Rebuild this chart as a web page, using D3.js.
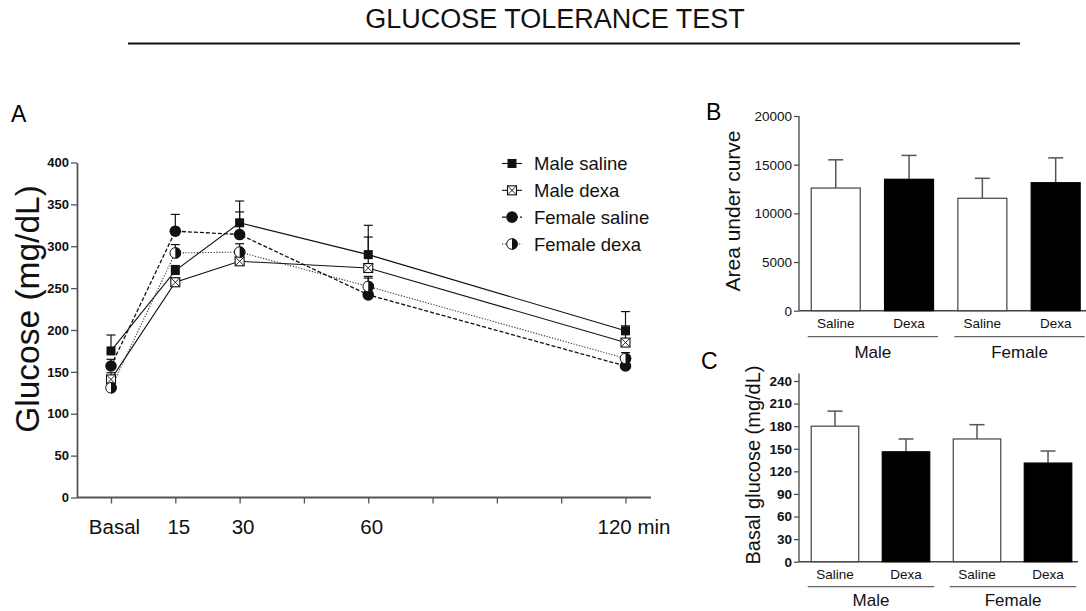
<!DOCTYPE html>
<html>
<head>
<meta charset="utf-8">
<script src="https://cdn.jsdelivr.net/npm/d3@7"></script>
<style>
  body { margin: 0; background: #fff; }
  svg { display: block; font-family: "Liberation Sans", Arial, sans-serif; }
</style>
</head>
<body>
<svg id="chart" width="1086" height="611"></svg>
<script>
// ---------- DATA ----------
const timePoints = [0, 15, 30, 60, 120];
const xTickValues = [0, 15, 30, 45, 60, 75, 90, 105, 120];
const xTickLabels = ["Basal", "15", "30", "", "60", "", "", "", "120 min"];
const yTicksA = [0, 50, 100, 150, 200, 250, 300, 350, 400];

const seriesNames = ["Male saline", "Male dexa", "Female saline", "Female dexa"];
const maleSaline = [175, 271, 328, 290, 199];
const maleSalineErr = [19, 6, 26, 35, 23];
const maleDexa = [141, 257, 282, 274, 185];
const maleDexaErr = [8, 5, 8, 37, 20];
const femaleSaline = [157, 318, 314, 242, 157];
const femaleSalineErr = [8, 20, 27, 22, 6];
const femaleDexa = [131, 292, 293, 252, 166];
const femaleDexaErr = [7, 10, 10, 10, 7];

const barCategories = ["Saline", "Dexa", "Saline", "Dexa"];
const barGroups = ["Male", "Female"];
const aucMean = [12600, 13500, 11550, 13150];
const aucErr = [2900, 2450, 2050, 2550];
const yTicksB = [0, 5000, 10000, 15000, 20000];
const basalMean = [180, 146, 163, 131];
const basalErr = [20, 17, 19, 16];
const yTicksC = [0, 30, 60, 90, 120, 150, 180, 210, 240];

// ---------- SETUP ----------
const svg = d3.select("#chart");
const FONT = '"Liberation Sans", Arial, sans-serif';

// Title
svg.append("text").attr("x", 555).attr("y", 27.5).attr("text-anchor", "middle")
  .attr("font-size", 27).attr("fill", "#111").text("GLUCOSE TOLERANCE TEST");
svg.append("line").attr("x1", 128).attr("x2", 1020).attr("y1", 43.5).attr("y2", 43.5)
  .attr("stroke", "#111").attr("stroke-width", 2.2);

// ---------- PANEL A ----------
const xA = d3.scaleLinear().domain([0, 120]).range([111, 625.5]);
const yA = d3.scaleLinear().domain([0, 400]).range([497.5, 162.5]);
const axisCol = "#555";

svg.append("text").attr("x", 11).attr("y", 122).attr("font-size", 23).text("A");

const gA = svg.append("g");
// y axis
const yAxisA = gA.append("g").attr("transform", "translate(77,0)")
  .call(d3.axisLeft(yA).tickValues(yTicksA).tickSize(6).tickSizeOuter(0).tickPadding(2));
yAxisA.select(".domain").attr("stroke", axisCol).attr("stroke-width", 1.8);
yAxisA.selectAll(".tick line").attr("stroke", axisCol).attr("stroke-width", 1.3);
yAxisA.selectAll(".tick text").attr("font-family", FONT).attr("font-size", 13)
  .attr("font-weight", "bold").attr("fill", "#111");

// x axis
const xAxisA = gA.append("g").attr("transform", `translate(0,${yA(0)})`)
  .call(d3.axisBottom(xA).tickValues(xTickValues).tickSize(6).tickSizeOuter(0).tickPadding(16)
    .tickFormat((d, i) => xTickLabels[i]));
xAxisA.select(".domain").remove();
xAxisA.append("line").attr("x1", 77).attr("x2", 651).attr("y1", 0).attr("y2", 0)
  .attr("stroke", axisCol).attr("stroke-width", 1.8);
xAxisA.selectAll(".tick line").attr("stroke", axisCol).attr("stroke-width", 1.3);
xAxisA.selectAll(".tick text").attr("font-family", FONT).attr("font-size", 20.5).attr("fill", "#111")
  .attr("dx", 3);
xAxisA.selectAll(".tick").filter(d => d === 120).select("text").attr("dx", 8);

// y label
svg.append("text").attr("transform", "translate(39,309) rotate(-90)")
  .attr("text-anchor", "middle").attr("font-size", 33.5).attr("fill", "#111").text("Glucose (mg/dL)");

const series = [
  { name: seriesNames[0], values: maleSaline, err: maleSalineErr, marker: "square", dash: null, stroke: "#111", sw: 1.1 },
  { name: seriesNames[1], values: maleDexa, err: maleDexaErr, marker: "xsquare", dash: null, stroke: "#111", sw: 1.1 },
  { name: seriesNames[2], values: femaleSaline, err: femaleSalineErr, marker: "circle", dash: "4,2", stroke: "#111", sw: 1.3 },
  { name: seriesNames[3], values: femaleDexa, err: femaleDexaErr, marker: "halfcircle", dash: "1.2,1.6", stroke: "#333", sw: 1.1 }
];

const line = d3.line().x((d, i) => xA(timePoints[i])).y(d => yA(d));

// lines
series.forEach(s => {
  gA.append("path").datum(s.values).attr("d", line).attr("fill", "none")
    .attr("stroke", s.stroke).attr("stroke-width", s.sw)
    .attr("stroke-dasharray", s.dash);
});
// error bars
series.forEach(s => {
  s.values.forEach((v, i) => {
    const x = xA(timePoints[i]);
    const top = yA(v + s.err[i]);
    gA.append("line").attr("x1", x).attr("x2", x).attr("y1", yA(v)).attr("y2", top)
      .attr("stroke", "#111").attr("stroke-width", 1.2);
    gA.append("line").attr("x1", x - 4.5).attr("x2", x + 4.5).attr("y1", top).attr("y2", top)
      .attr("stroke", "#111").attr("stroke-width", 1.2);
  });
});

function drawMarker(g, type, x, y) {
  if (type === "square") {
    g.append("rect").attr("x", x - 4.5).attr("y", y - 4.5).attr("width", 9).attr("height", 9)
      .attr("fill", "#111");
  } else if (type === "xsquare") {
    g.append("rect").attr("x", x - 4.5).attr("y", y - 4.5).attr("width", 9).attr("height", 9)
      .attr("fill", "#fff").attr("stroke", "#111").attr("stroke-width", 1.1);
    g.append("path").attr("d", `M${x - 4.5},${y - 4.5}L${x + 4.5},${y + 4.5}M${x + 4.5},${y - 4.5}L${x - 4.5},${y + 4.5}`)
      .attr("stroke", "#111").attr("stroke-width", 0.9);
  } else if (type === "circle") {
    g.append("circle").attr("cx", x).attr("cy", y).attr("r", 5.8).attr("fill", "#111");
  } else if (type === "halfcircle") {
    const r = 5.8;
    g.append("circle").attr("cx", x).attr("cy", y).attr("r", r - 0.5)
      .attr("fill", "#fff").attr("stroke", "#111").attr("stroke-width", 1);
    g.append("path").attr("d", `M${x},${y - r}A${r},${r} 0 0 1 ${x},${y + r}Z`).attr("fill", "#111");
  }
}

series.forEach(s => {
  s.values.forEach((v, i) => drawMarker(gA, s.marker, xA(timePoints[i]), yA(v)));
});

// legend
const legendY = d3.scalePoint().domain(seriesNames).range([163.5, 244]);
series.forEach(s => {
  const y = legendY(s.name);
  gA.append("line").attr("x1", 502).attr("x2", 522).attr("y1", y).attr("y2", y)
    .attr("stroke", s.stroke).attr("stroke-width", s.sw).attr("stroke-dasharray", s.dash);
  drawMarker(gA, s.marker, 512, y);
  gA.append("text").attr("x", 534).attr("y", y + 6.5).attr("font-size", 18.5).attr("fill", "#111").text(s.name);
});

// ---------- BAR PANELS ----------
function barPanel(opts) {
  const g = svg.append("g");
  const y = d3.scaleLinear().domain([0, opts.yMax]).range([opts.y0, opts.y1]);
  const x = d3.scaleBand().domain(d3.range(barCategories.length))
    .range([opts.axisX, opts.xEnd]).paddingInner(opts.pi).paddingOuter(opts.po);

  svg.append("text").attr("x", opts.labelX).attr("y", opts.labelY).attr("font-size", 23).text(opts.letter);

  const ya = g.append("g").attr("transform", `translate(${opts.axisX},0)`)
    .call(d3.axisLeft(y).tickValues(opts.ticks).tickSize(5).tickSizeOuter(0).tickPadding(2)
      .tickFormat(d3.format("d")));
  ya.select(".domain").attr("d", `M0,${y(0)}V${y(opts.axisTop)}`).attr("stroke", "#444").attr("stroke-width", 1.3);
  ya.selectAll(".tick line").attr("stroke", "#444").attr("stroke-width", 1.2);
  ya.selectAll(".tick text").attr("font-family", FONT).attr("font-size", 13.5)
    .attr("font-weight", opts.bold ? "bold" : "normal").attr("fill", "#111");

  g.append("line").attr("x1", opts.axisX).attr("x2", opts.axisEnd).attr("y1", y(0)).attr("y2", y(0))
    .attr("stroke", "#444").attr("stroke-width", 1.4);

  // error bars
  opts.mean.forEach((m, i) => {
    const cx = x(i) + x.bandwidth() / 2;
    const top = y(m + opts.err[i]);
    g.append("line").attr("x1", cx).attr("x2", cx).attr("y1", y(m)).attr("y2", top)
      .attr("stroke", "#555").attr("stroke-width", 1.5);
    g.append("line").attr("x1", cx - 7.5).attr("x2", cx + 7.5).attr("y1", top).attr("y2", top)
      .attr("stroke", "#555").attr("stroke-width", 1.5);
  });
  // bars
  opts.mean.forEach((m, i) => {
    const dark = barCategories[i] === "Dexa";
    g.append("rect").attr("x", x(i) + 0.5).attr("y", y(m)).attr("width", x.bandwidth() - 1)
      .attr("height", y(0) - y(m))
      .attr("fill", dark ? "#000" : "#fff").attr("stroke", dark ? "#000" : "#444").attr("stroke-width", 1.2);
  });

  // category labels
  barCategories.forEach((c, i) => {
    g.append("text").attr("x", x(i) + x.bandwidth() / 2).attr("y", opts.catY).attr("text-anchor", "middle")
      .attr("font-size", 13.5).attr("fill", "#111").text(c);
  });
  // group lines + labels
  barGroups.forEach((grp, k) => {
    const a = x(2 * k) - 3, b = x(2 * k + 1) + x.bandwidth() + 4;
    g.append("line").attr("x1", a).attr("x2", b).attr("y1", opts.grpLineY).attr("y2", opts.grpLineY)
      .attr("stroke", "#666").attr("stroke-width", 1.2);
    g.append("text").attr("x", (a + b) / 2).attr("y", opts.grpY).attr("text-anchor", "middle")
      .attr("font-size", 17).attr("fill", "#111").text(grp);
  });

  svg.append("text").attr("transform", `translate(${opts.ylabX},${opts.ylabY}) rotate(-90)`)
    .attr("text-anchor", "middle").attr("font-size", opts.ylabSize).attr("fill", "#111").text(opts.ylab);
}

barPanel({
  letter: "B", labelX: 706, labelY: 120,
  yMax: 20000, y0: 310.7, y1: 116, axisTop: 20000, ticks: yTicksB, bold: false,
  axisX: 799, xEnd: 1092.4, pi: 0.318, po: 0.16, axisEnd: 1086,
  mean: aucMean, err: aucErr,
  catY: 328, grpLineY: 336.7, grpY: 358,
  ylab: "Area under curve", ylabX: 740, ylabY: 211, ylabSize: 21
});

barPanel({
  letter: "C", labelX: 701, labelY: 369,
  yMax: 240, y0: 561.7, y1: 381, axisTop: 250, ticks: yTicksC, bold: true,
  axisX: 799, xEnd: 1084, pi: 0.317, po: 0.165, axisEnd: 1078,
  mean: basalMean, err: basalErr,
  catY: 579, grpLineY: 586.7, grpY: 606,
  ylab: "Basal glucose (mg/dL)", ylabX: 760, ylabY: 465, ylabSize: 20
});
</script>
</body>
</html>
